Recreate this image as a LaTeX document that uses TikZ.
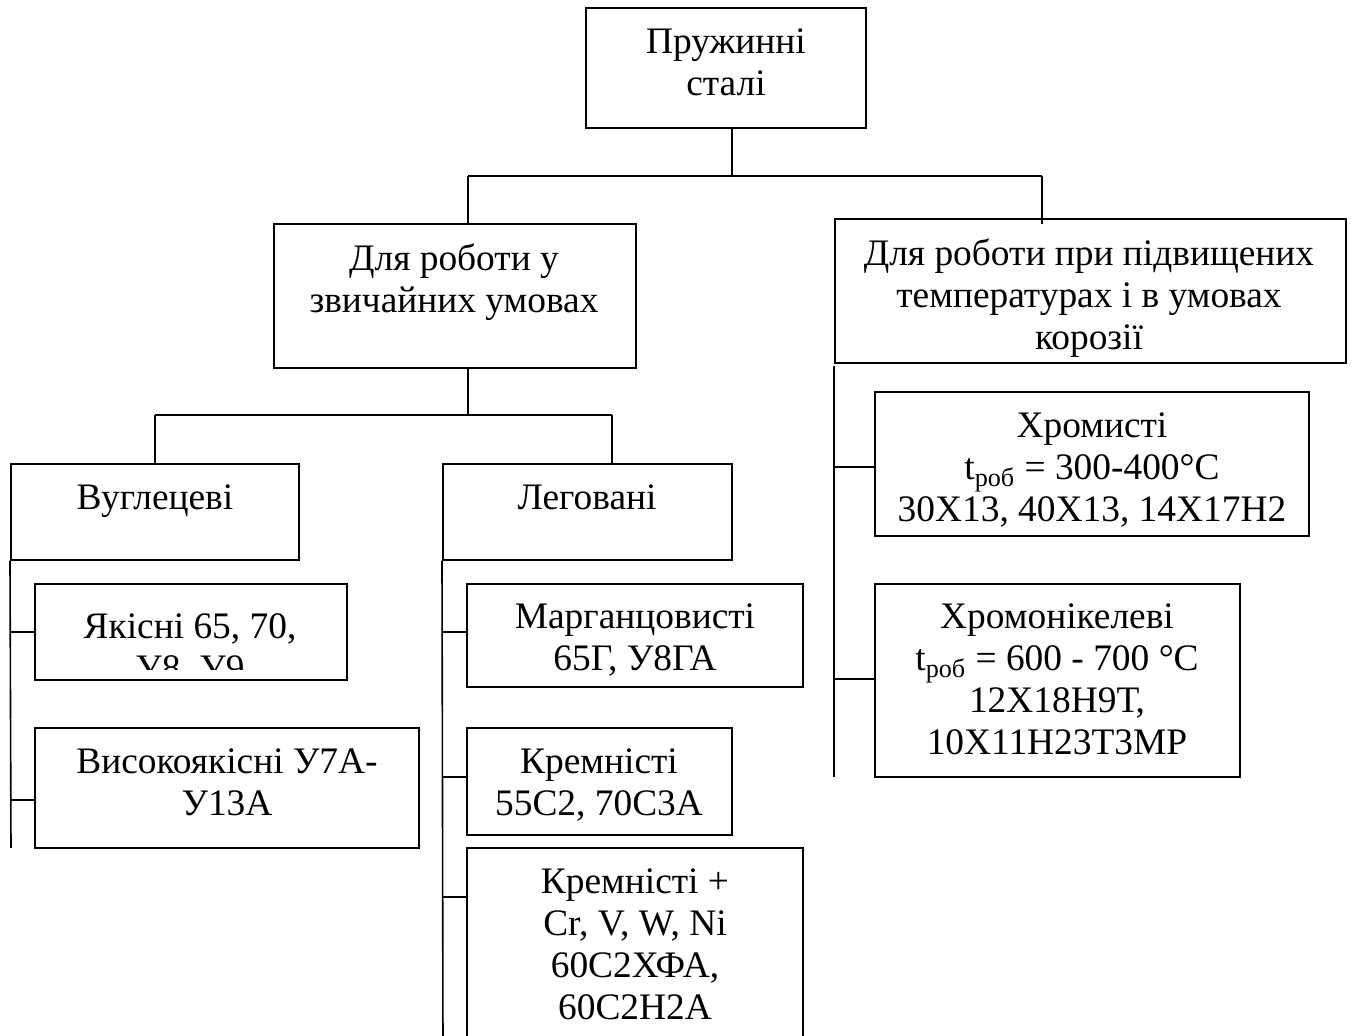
\documentclass[tikz,border=0pt]{standalone}
\usepackage{fontspec}
\setmainfont{Liberation Serif}
\usetikzlibrary{fit}
\tikzset{
  box/.style={draw, line width=1pt, inner sep=0pt},
  txt/.style={align=center, inner sep=0pt, anchor=north, font=\fontsize{18.7}{21}\selectfont},
  link/.style={line width=0.8pt},
}
\begin{document}
\begin{tikzpicture}[x=0.5pt,y=-0.5pt]
\useasboundingbox[fill=white] (0,0) rectangle (1355,1036);
% boxes
\node[box, fit={(586,8)(866,128)}] (top) {};
\node[box, fit={(274,224)(636,368)}] (cond) {};
\node[box, fit={(835,219)(1346,363)}] (hot) {};
\node[box, fit={(11,464)(299,560)}] (carb) {};
\node[box, fit={(443,464)(732,560)}] (alloy) {};
\node[box, fit={(35,584)(347,680)}] (q1) {};
\node[box, fit={(35,728)(419,848)}] (q2) {};
\node[box, fit={(467,584)(803,687)}] (a1) {};
\node[box, fit={(467,728)(732,835)}] (a2) {};
\node[box, fit={(467,848)(803,1050)}] (a3) {};
\node[box, fit={(875,392)(1309,536)}] (h1) {};
\node[box, fit={(875,584)(1240,777)}] (h2) {};
% texts
\node[txt] (ttop) at (726,24) {\strut Пружинні\\сталі};
\node[txt] (tcond) at (454,241) {\strut Для роботи у\\звичайних умовах};
\node[txt] (thot) at (1089,236) {\strut Для роботи при підвищених\\температурах і в умовах\\корозії};
\node[txt] (tcarb) at (155,480) {\strut Вуглецеві};
\node[txt] (talloy) at (587,480) {\strut Леговані};
\begin{scope}
\clip (35,584) rectangle (347,670);
\node[txt] (tq1) at (190,609) {\strut Якісні 65, 70,\\У8, У9};
\end{scope}
\node[txt] (tq2) at (227,744) {\strut Високоякісні У7А-\\У13А};
\node[txt] (ta1) at (635,599) {\strut Марганцовисті\\65Г, У8ГА};
\node[txt] (ta2) at (599,744) {\strut Кремністі\\55С2, 70С3А};
\node[txt] (ta3) at (635,864) {\strut Кремністі +\\Cr, V, W, Ni\\60С2ХФА,\\60С2Н2А};
\node[txt] (th1) at (1092,408) {\strut Хромисті\\t\textsubscript{роб} = 300-400°C\\30Х13, 40Х13, 14Х17Н2};
\node[txt] (th2) at (1057,599) {\strut Хромонікелеві\\t\textsubscript{роб} = 600 - 700 °C\\12Х18Н9Т,\\10Х11Н23Т3МР};
% junctions
\coordinate (j1) at (732,176);
\coordinate (j1l) at (468,176);
\coordinate (j1r) at (1042,176);
\coordinate (j2) at (468,415);
\coordinate (j2l) at (155,415);
\coordinate (j2r) at (612,415);
\draw[link] (top.south -| j1) -- (j1);
\draw[link] (j1l) -- (j1r);
\draw[link] (j1l) -- (j1l |- cond.north);
\draw[link] (j1r) -- ([yshift=-3pt]j1r |- hot.north);
\draw[link] (cond.south -| j2) -- (j2);
\draw[link] (j2l) -- (j2r);
\draw[link] (j2l) -- (j2l |- carb.north);
\draw[link] (j2r) -- (j2r |- alloy.north);
% left trunk
\coordinate (lend) at (11,848);
\draw[link] (carb.south west) -- (lend);
\coordinate (c1) at (11,632);
\coordinate (c2) at (11,800);
\draw[link] (c1) -- (c1 -| q1.west);
\draw[link] (c2) -- (c2 -| q2.west);
% middle trunk
\coordinate (mend) at (443,1050);
\draw[link] (alloy.south west) -- (mend);
\coordinate (m1) at (443,632);
\coordinate (m2) at (443,777);
\coordinate (m3) at (443,897);
\draw[link] (m1) -- (m1 -| a1.west);
\draw[link] (m2) -- (m2 -| a2.west);
\draw[link] (m3) -- (m3 -| a3.west);
% right trunk
\coordinate (rstart) at (834,366);
\coordinate (rend) at (834,777);
\draw[link] (rstart) -- (rend);
\coordinate (r1) at (834,467);
\coordinate (r2) at (834,679);
\draw[link] (r1) -- (r1 -| h1.west);
\draw[link] (r2) -- (r2 -| h2.west);
\end{tikzpicture}
\end{document}
